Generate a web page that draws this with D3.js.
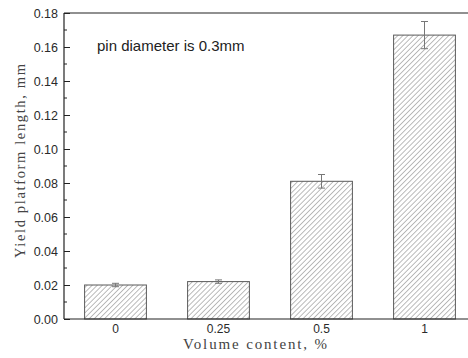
<!DOCTYPE html>
<html>
<head>
<meta charset="utf-8">
<script src="https://cdn.jsdelivr.net/npm/d3@7"></script>
<style>
  body { margin: 0; background: #fff; }
  svg { display: block; }
</style>
</head>
<body>
<svg id="chart"></svg>
<script>
let width = 468
let height = 358

// values
let categories = ['0', '0.25', '0.5', '1']
let values = [0.020, 0.022, 0.081, 0.167]
let errors = [0.001, 0.001, 0.004, 0.008]
let yTicks = [0, 0.02, 0.04, 0.06, 0.08, 0.10, 0.12, 0.14, 0.16, 0.18]

let plotLeft = 64
let plotTop = 13
let plotBottom = 319

let svg = d3.select('#chart')
    .attr('width', width)
    .attr('height', height)

// diagonal hatching for the bars
svg.append('defs')
  .append('pattern')
    .attr('id', 'hatch')
    .attr('patternUnits', 'userSpaceOnUse')
    .attr('width', 3.6)
    .attr('height', 3.6)
    .attr('patternTransform', 'rotate(45)')
  .append('line')
    .attr('x1', 0).attr('y1', 0)
    .attr('x2', 0).attr('y2', 3.6)
    .attr('stroke', '#555')
    .attr('stroke-width', 0.8)

let xScale = d3.scaleBand()
                .domain(categories)
                .range([plotLeft, plotLeft + 4 * 103])
                .paddingInner(0.4)
                .paddingOuter(0.2)

let yScale = d3.scaleLinear()
                .domain([0, 0.18])
                .range([plotBottom, plotTop])

// bars
svg.selectAll('rect.bar')
  .data(values)
  .enter()
  .append('rect')
    .attr('class', 'bar')
    .attr('x', (d, i) => xScale(categories[i]))
    .attr('y', d => yScale(d))
    .attr('width', xScale.bandwidth())
    .attr('height', d => yScale(0) - yScale(d))
    .attr('fill', 'url(#hatch)')
    .attr('stroke', '#5a5a5a')
    .attr('stroke-width', 1)

// error bars
let errG = svg.append('g')
    .attr('stroke', '#777')
    .attr('stroke-width', 1)

values.forEach((v, i) => {
  let cx = xScale(categories[i]) + xScale.bandwidth() / 2
  let y1 = yScale(v + errors[i])
  let y2 = yScale(v - errors[i])
  errG.append('line').attr('x1', cx).attr('x2', cx).attr('y1', y1).attr('y2', y2)
  errG.append('line').attr('x1', cx - 3.5).attr('x2', cx + 3.5).attr('y1', y1).attr('y2', y1)
  errG.append('line').attr('x1', cx - 3.5).attr('x2', cx + 3.5).attr('y1', y2).attr('y2', y2)
})

// y axis: ticks point inward, minor ticks in between
let yAxis = d3.axisRight(yScale)
                .tickValues(yTicks)
                .tickSize(6)
                .tickFormat('')

let yg = svg.append('g')
    .attr('transform', `translate(${plotLeft},0)`)
    .call(yAxis)
yg.select('.domain').remove()
yg.selectAll('line').attr('stroke', '#222')

let minor = yTicks.slice(0, -1).map(d => d + 0.01)
svg.append('g')
  .selectAll('line')
  .data(minor)
  .enter()
  .append('line')
    .attr('x1', plotLeft)
    .attr('x2', plotLeft + 3)
    .attr('y1', d => yScale(d))
    .attr('y2', d => yScale(d))
    .attr('stroke', '#222')

svg.append('g')
  .selectAll('text')
  .data(yTicks)
  .enter()
  .append('text')
    .attr('x', plotLeft - 6)
    .attr('y', d => yScale(d))
    .attr('dy', '0.36em')
    .attr('text-anchor', 'end')
    .attr('font-family', 'Liberation Sans, Arial, sans-serif')
    .attr('font-size', 12.5)
    .attr('fill', '#2a2a2a')
    .text(d => d.toFixed(2))

// frame lines: left, bottom, top
svg.append('line')
    .attr('x1', plotLeft).attr('x2', plotLeft)
    .attr('y1', plotTop).attr('y2', plotBottom)
    .attr('stroke', '#222').attr('stroke-width', 1.2)
svg.append('line')
    .attr('x1', plotLeft).attr('x2', width)
    .attr('y1', plotBottom).attr('y2', plotBottom)
    .attr('stroke', '#222').attr('stroke-width', 1.2)
svg.append('line')
    .attr('x1', plotLeft).attr('x2', width)
    .attr('y1', plotTop).attr('y2', plotTop)
    .attr('stroke', '#222').attr('stroke-width', 1.2)

// x tick labels
svg.append('g')
  .selectAll('text')
  .data(categories)
  .enter()
  .append('text')
    .attr('x', d => xScale(d) + xScale.bandwidth() / 2)
    .attr('y', 333)
    .attr('text-anchor', 'middle')
    .attr('font-family', 'Liberation Sans, Arial, sans-serif')
    .attr('font-size', 12)
    .attr('fill', '#2a2a2a')
    .text(d => d)

// axis titles (serif, stretched like the original fixed-width face)
svg.append('text')
    .attr('x', 183)
    .attr('y', 349)
    .attr('textLength', 144)
    .attr('lengthAdjust', 'spacing')
    .attr('font-family', 'Liberation Serif, serif')
    .attr('font-size', 15)
    .attr('fill', '#444')
    .text('Volume content, %')

svg.append('text')
    .attr('transform', 'translate(25,258) rotate(-90)')
    .attr('textLength', 194)
    .attr('lengthAdjust', 'spacing')
    .attr('font-family', 'Liberation Serif, serif')
    .attr('font-size', 14.5)
    .attr('fill', '#444')
    .text('Yield platform length, mm')

// annotation
svg.append('text')
    .attr('x', 97)
    .attr('y', 51)
    .attr('font-family', 'Liberation Sans, Arial, sans-serif')
    .attr('font-size', 15)
    .attr('fill', '#222')
    .text('pin diameter is 0.3mm')
</script>
</body>
</html>
